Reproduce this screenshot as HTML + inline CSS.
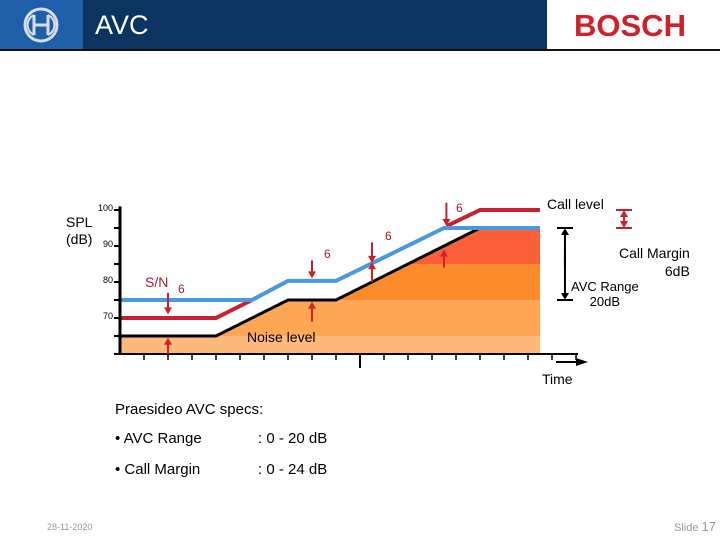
<!DOCTYPE html>
<html><head><meta charset="utf-8"><style>
html,body{margin:0;padding:0;background:#fff;}
body{width:720px;height:540px;position:relative;overflow:hidden;font-family:"Liberation Sans",sans-serif;}
.t{position:absolute;white-space:nowrap;color:#000;}
</style></head><body>
<div style="position:absolute;left:0;top:0;width:547px;height:50px;background:#0b3461;"></div>
<div style="position:absolute;left:0;top:0;width:83px;height:50px;background:#1f5ea8;"></div>
<svg style="position:absolute;left:22px;top:6px" width="38" height="38" viewBox="0 0 38 38">
<circle cx="19" cy="19" r="16" fill="none" stroke="#d8dde4" stroke-width="3"/>
<path d="M12 9v20M26 9v20M12 19h14" stroke="#d8dde4" stroke-width="3" fill="none"/>
<path d="M12 9a11 11 0 0 0 0 20M26 9a11 11 0 0 1 0 20" stroke="#d8dde4" stroke-width="2" fill="none"/>
</svg>
<div class="t" style="left:95px;top:10px;font-size:27px;color:#fff;">AVC</div>
<div class="t" style="left:574px;top:8px;font-size:31px;font-weight:bold;color:#d0202c;">BOSCH</div>
<div style="position:absolute;left:0;top:49px;width:720px;height:2px;background:#111;"></div>

<svg id="chart" style="position:absolute;left:0;top:0" width="720" height="400"></svg>

<div class="t" style="left:66px;top:214px;font-size:14px;line-height:17px;">SPL<br>(dB)</div>
<div class="t" style="left:547px;top:196px;font-size:14px;">Call level</div>
<div class="t" style="left:619px;top:244px;font-size:14px;line-height:18px;text-align:right;">Call Margin<br><span style="padding-left:22px">6dB</span></div>
<div class="t" style="left:571px;top:279px;font-size:13px;line-height:15px;text-align:center;">AVC Range<br>20dB</div>
<div class="t" style="left:247px;top:329px;font-size:14px;">Noise level</div>
<div class="t" style="left:145px;top:274px;font-size:14px;color:#a0202c;">S/N</div>
<div class="t" style="left:542px;top:371px;font-size:14px;">Time</div>

<div class="t" style="left:115px;top:401px;font-size:15px;">Praesideo AVC specs:</div>
<div class="t" style="left:115px;top:430px;font-size:15px;">• AVC Range</div>
<div class="t" style="left:258px;top:430px;font-size:15px;">: 0 - 20 dB</div>
<div class="t" style="left:115px;top:461px;font-size:15px;">• Call Margin</div>
<div class="t" style="left:258px;top:461px;font-size:15px;">: 0 - 24 dB</div>
<div class="t" style="left:47px;top:522px;font-size:9px;color:#999;">28-11-2020</div>
<div class="t" style="left:674px;top:519px;font-size:11px;color:#999;">Slide <span style="font-size:13px">17</span></div>

<script>
const yTicks=[60,65,70,75,80,85,90,95,100];
const yTickLabels=["","","70","","80","","90","","100"];
const noiseT=[0,4,7,9,15,17.5];
const noiseDb=[65,65,75,75,95,95];
const blueT=[0,5.5,7,9,13.5,17.5];
const blueDb=[75,75,80.3,80.3,95,95];
const redT1=[0,4,5.5];
const redDb1=[70,70,75];
const redT2=[13.6,15,17.5];
const redDb2=[95.5,100,100];
const bandEdges=[60,65,75,85,95];
const bandColors=["#fdb87b","#fda654","#fb8b2b","#fb6039"];
const downArrows=[[2,77,71],[8,86,81],[10.5,91,85.3],[13.6,102,95.6]];
const upArrows=[[2,60,64.5],[8,69,74.5],[10.5,80,85.5],[13.5,84,89]];

const svg=document.getElementById('chart');
const NS='http://www.w3.org/2000/svg';
const X=t=>120+t*24, Y=d=>354-(d-60)*3.6;
function mk(tag,attrs){const e=document.createElementNS(NS,tag);for(const k in attrs)e.setAttribute(k,attrs[k]);svg.appendChild(e);return e;}
const defs=mk('defs',{});
defs.innerHTML='<clipPath id="nc"><polygon points="'+noiseT.map((t,i)=>X(t)+','+Y(noiseDb[i])).join(' ')+' '+X(17.5)+','+Y(60)+' '+X(0)+','+Y(60)+'"/></clipPath>';
const g=mk('g',{'clip-path':'url(#nc)'});
for(let i=0;i<bandColors.length;i++){
 const r=document.createElementNS(NS,'rect');
 r.setAttribute('x',X(0));r.setAttribute('width',X(17.5)-X(0));
 r.setAttribute('y',Y(bandEdges[i+1]));r.setAttribute('height',Y(bandEdges[i])-Y(bandEdges[i+1]));
 r.setAttribute('fill',bandColors[i]);
 
 
 g.appendChild(r);
}
function line(ts,ds,col,w,name){const p=mk('polyline',{points:ts.map((t,i)=>X(t)+','+Y(ds[i])).join(' '),fill:'none',stroke:col,'stroke-width':w});
 
 }
line(noiseT,noiseDb,'#000',3,'noise-level-line');
line(redT1,redDb1,'#c8202c',4,'call-level-line');
line(redT2,redDb2,'#c8202c',4,'call-level-line');
line(blueT,blueDb,'#4a98e0',4,'avc-call-line');
const ya=mk('line',{x1:120,y1:Y(101),x2:120,y2:354,stroke:'#000','stroke-width':3});


const xa=mk('line',{x1:114,y1:354,x2:578,y2:354,stroke:'#000','stroke-width':2});


mk('polygon',{points:'588,362 576,358 576,366',fill:'#000'});
mk('line',{x1:556,y1:362,x2:578,y2:362,stroke:'#000','stroke-width':2});
yTicks.forEach((d,i)=>{
 const tk=mk('line',{x1:114,y1:Y(d),x2:120,y2:Y(d),stroke:'#000','stroke-width':2});
 
 
 if(yTickLabels[i]){const t=mk('text',{x:113,y:Y(d)+1,'font-size':9,'text-anchor':'end','font-family':'Liberation Sans'});t.textContent=yTickLabels[i];
 
 }
});
for(let t=1;t<=19;t++){const tk=mk('line',{x1:X(t),y1:354,x2:X(t),y2:t==10?368:360,stroke:'#000','stroke-width':t==10?2:1.5});
 
 }
function arrow(t,from,to,col,name){const x=X(t),y1=Y(from),y2=Y(to),dir=y2>y1?1:-1;
 mk('line',{x1:x,y1:y1,x2:x,y2:y2-dir*5,stroke:col,'stroke-width':2});
 const h=mk('polygon',{points:x+','+y2+' '+(x-4)+','+(y2-dir*7)+' '+(x+4)+','+(y2-dir*7),fill:col});
 
 }
downArrows.forEach(a=>arrow(a[0],a[1],a[2],'#c8202c','call-offset-arrow'));
upArrows.forEach(a=>arrow(a[0],a[1],a[2],'#d42020','noise-offset-arrow'));
[[178,293],[324,258],[385,240],[456,212]].forEach(p=>{const t=mk('text',{x:p[0],y:p[1],'font-size':12,fill:'#a0202c','font-family':'Liberation Sans'});t.textContent='6';
 
 });
arrow(18.54,84,95,'#000','avc-range-arrow');arrow(18.54,89,75,'#000','avc-range-arrow');
mk('line',{x1:557,y1:Y(95),x2:573,y2:Y(95),stroke:'#000','stroke-width':2});
mk('line',{x1:557,y1:Y(75),x2:573,y2:Y(75),stroke:'#000','stroke-width':2});
mk('line',{x1:616,y1:Y(100),x2:632,y2:Y(100),stroke:'#c8202c','stroke-width':2});
mk('line',{x1:616,y1:Y(95),x2:632,y2:Y(95),stroke:'#c8202c','stroke-width':2});
arrow(21,97,100,'#c8202c','call-margin-arrow');arrow(21,98,95,'#c8202c','call-margin-arrow');
</script>
</body></html>
